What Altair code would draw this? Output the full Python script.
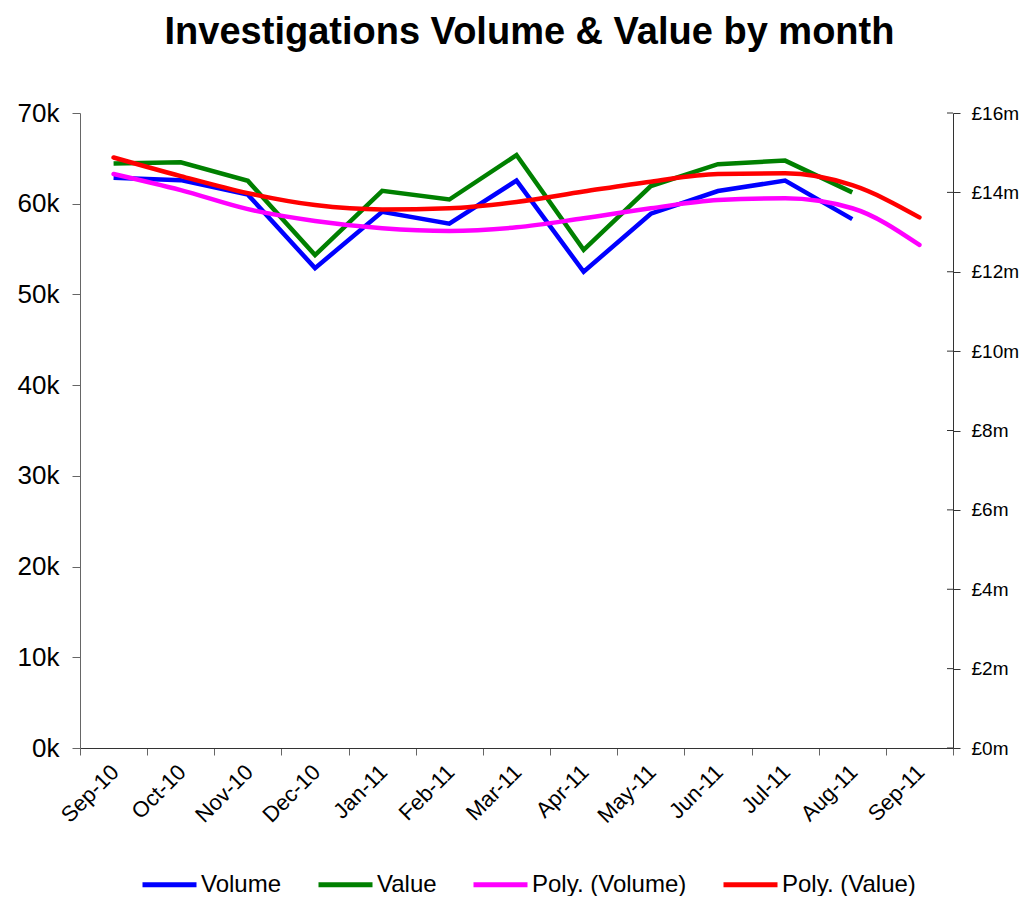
import altair as alt
import pandas as pd

months = ["Sep-10", "Oct-10", "Nov-10", "Dec-10", "Jan-11", "Feb-11", "Mar-11",
          "Apr-11", "May-11", "Jun-11", "Jul-11", "Aug-11", "Sep-11"]
volume = [62870, 62600, 61000, 52900, 59100, 57800, 62550,
          52500, 58900, 61400, 62550, 58300, None]
value_m = [14.73, 14.76, 14.29, 12.42, 14.04, 13.82, 14.94,
           12.55, 14.16, 14.71, 14.80, 14.00, None]
poly_volume = [63280, 61500, 59400, 58100, 57300, 57000, 57400,
               58400, 59500, 60400, 60600, 59500, 55450]
poly_value = [14.88, 14.41, 13.98, 13.68, 13.57, 13.60, 13.76,
              14.02, 14.27, 14.46, 14.48, 14.18, 13.37]
series_names = ["Volume", "Value", "Poly. (Volume)", "Poly. (Value)"]
series_colors = ["#0000FF", "#008000", "#FF00FF", "#FF0000"]
left_ticks = [0, 10000, 20000, 30000, 40000, 50000, 60000, 70000]
right_ticks = [0, 2, 4, 6, 8, 10, 12, 14, 16]

rows = []
for name, vals in zip(series_names, [volume, value_m, poly_volume, poly_value]):
    for m, v in zip(months, vals):
        if v is not None:
            rows.append({"month": m, "series": name, "v": v})
df = pd.DataFrame(rows)
ticks_df = pd.DataFrame({"t": right_ticks})

FONT = "Liberation Sans"
W, H = 873, 635

x_enc = alt.X(
    "month:O", sort=months, bandPosition=0.5,
    scale=alt.Scale(type="band", paddingInner=0, paddingOuter=0),
    axis=alt.Axis(title=None, labelAngle=-45, labelFontSize=22, labelFont=FONT,
                  labelColor="black", tickBand="extent", tickSize=7, tickColor="#666666",
                  domainColor="#333333", labelPadding=6, labelOffset=-6,
                  labelOverlap=False),
)
color_enc = alt.Color(
    "series:N",
    scale=alt.Scale(domain=series_names, range=series_colors),
    legend=alt.Legend(
        title=None, orient="none", direction="horizontal", columns=4,
        legendX=60, legendY=742, symbolType="stroke", symbolSize=2916,
        symbolStrokeWidth=5, labelFontSize=24, labelFont=FONT, labelColor="black",
        labelOffset=2, columnPadding=26, labelLimit=400,
    ),
)

left_scale = alt.Scale(domain=[0, 70000], nice=False, zero=True)
right_scale = alt.Scale(domain=[0, 16], nice=False, zero=True)

left_axis = alt.Axis(
    title=None, orient="left", values=left_ticks, labelExpr="datum.value / 1000 + 'k'",
    labelFontSize=26, labelFont=FONT, labelColor="black", tickSize=8, labelPadding=13,
    grid=False, domainColor="#666666", tickColor="#666666",
)
right_axis = alt.Axis(
    title=None, orient="right", values=right_ticks, labelExpr="'£' + datum.value + 'm'",
    labelFontSize=19, labelFont=FONT, labelColor="black", tickSize=7, labelPadding=11,
    grid=False, domainColor="#333333", tickColor="#333333",
)

base = alt.Chart(df)

vol_line = base.transform_filter(alt.datum.series == "Volume").mark_line(
    strokeWidth=4.5, strokeJoin="miter"
).encode(x=x_enc, y=alt.Y("v:Q", scale=left_scale, axis=left_axis), color=color_enc)

val_line = base.transform_filter(alt.datum.series == "Value").mark_line(
    strokeWidth=4.5, strokeJoin="miter"
).encode(x=x_enc, y=alt.Y("v:Q", scale=right_scale, axis=right_axis), color=color_enc)

pvol_line = base.transform_filter(alt.datum.series == "Poly. (Volume)").mark_line(
    strokeWidth=4.5, interpolate="monotone", strokeCap="round"
).encode(x=x_enc, y=alt.Y("v:Q", scale=left_scale, axis=None), color=color_enc)

pval_line = base.transform_filter(alt.datum.series == "Poly. (Value)").mark_line(
    strokeWidth=4.5, interpolate="monotone", strokeCap="round"
).encode(x=x_enc, y=alt.Y("v:Q", scale=right_scale, axis=None), color=color_enc)

inner_ticks = alt.Chart(ticks_df).mark_rule(color="#333333", strokeWidth=1).encode(
    y=alt.Y("t:Q", scale=right_scale, axis=None),
    x=alt.value(W - 6), x2=alt.value(W),
)

chart = alt.layer(
    vol_line, val_line, pvol_line, pval_line, inner_ticks
).resolve_scale(y="independent").properties(
    width=W, height=H, background="white",
    title=alt.TitleParams(
        "Investigations Volume & Value by month", fontSize=38, fontWeight="bold",
        font=FONT, color="black", anchor="middle", dx=13, offset=48,
    ),
    autosize=alt.AutoSizeParams(type="none"),
    padding={"left": 72, "top": 105, "right": 66, "bottom": 148},
).configure_view(stroke=None)

chart.save("out.html", embed_options={"renderer": "svg", "actions": False})
